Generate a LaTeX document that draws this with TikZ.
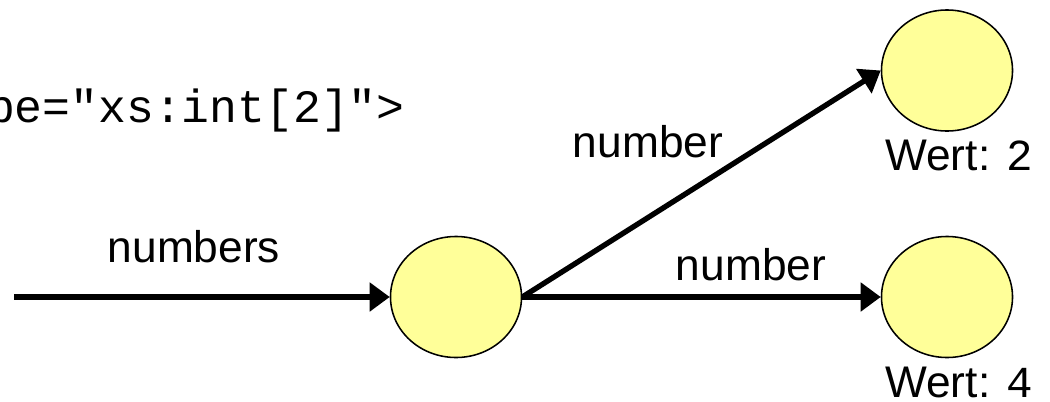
\documentclass[tikz,border=0pt]{standalone}
\usepackage{fontspec}
\setmainfont{Liberation Sans}
\setmonofont{Liberation Mono}
\usetikzlibrary{arrows.meta,shapes.geometric}
\definecolor{valfill}{RGB}{255, 255, 153}

\begin{document}
\begin{tikzpicture}[
      x=0.025cm, y=-0.025cm,
      val/.style={ellipse, draw=black, line width=1.1pt, fill=valfill,
                  minimum width=3.275cm, minimum height=3.025cm,
                  inner sep=0pt},
      flow/.style={line width=3.8pt,
                   -{Triangle[length=0.5cm, width=0.7cm]}},
      lbl/.style={font=\fontsize{31.5}{37}\selectfont, inner sep=0pt,
                  anchor=base},
    ]
    \useasboundingbox (0,0) rectangle (1050,401);
    %% xml fragment (cut at the left)
    \node[lbl, anchor=base east, font=\ttfamily\fontsize{33}{39}\selectfont]
      (code) at (405,122) {pe="xs:int[2]">};
    %% value nodes
    \coordinate (in) at (14,297);
    \node[val] (arr) at (456,297) {};
    \node[val] (v1) at (947,70.5) {};
    \node[val] (v2) at (947,297) {};
    %% connectors
    \draw[flow] (in) -- (arr.west);
    \draw[flow] (arr.east) -- (v1.west);
    \draw[flow] (arr.east) -- (v2.west);
    %% connector labels
    \node[lbl] (l0) at (194,262) {numbers};
    \node[lbl] (l1) at (648,157) {number};
    \node[lbl] (l2) at (751,280) {number};
    %% values
    \node[lbl, anchor=base west] (w1) at (885,170) {Wert: \texttt{2}};
    \node[lbl, anchor=base west] (w2) at (885,397) {Wert: \texttt{4}};
    \end{tikzpicture}
\end{document}
